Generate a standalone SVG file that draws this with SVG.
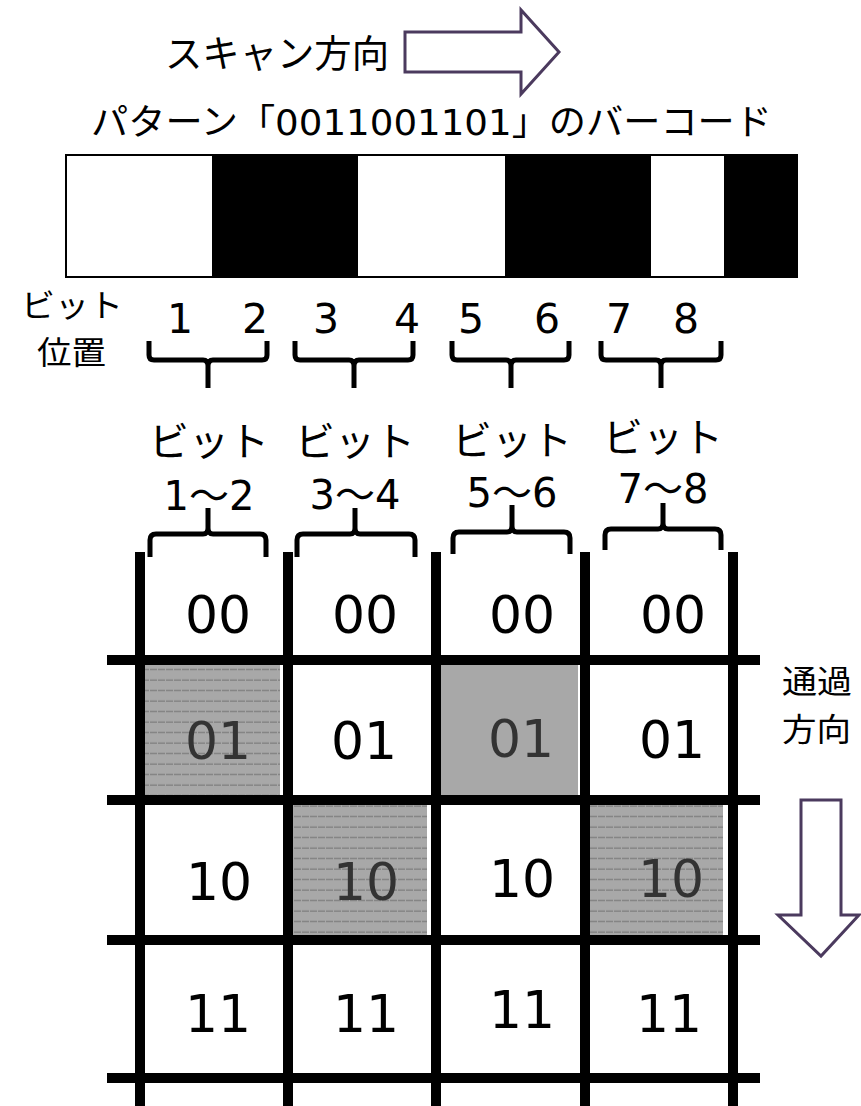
<svg xmlns="http://www.w3.org/2000/svg" width="861" height="1106" viewBox="0 0 861 1106">
<style>
.jp{font-family:"Noto Sans CJK JP","Noto Sans",sans-serif;fill:#000}
.mix{font-family:"DejaVu Sans","Noto Sans CJK JP",sans-serif;fill:#000}
.num{font-family:"DejaVu Sans",sans-serif;font-size:41px;fill:#000;text-anchor:middle}
.cell{font-family:"DejaVu Sans",sans-serif;font-size:52px;text-anchor:middle;fill:#000}
.cellg{fill:#333}
.brace{fill:none;stroke:#000;stroke-width:5;stroke-linejoin:round}
.grid{stroke:#000;stroke-width:10;fill:none}
.arrow{fill:#fff;stroke:#4b3a5e;stroke-width:3;stroke-linejoin:miter}
.gray{fill:#a8a8a8}
</style>
<defs>
<pattern id="hatch" patternUnits="userSpaceOnUse" x="0" y="3" width="8" height="10.5">
<rect width="8" height="10.5" fill="#a8a8a8"/>
<line x1="0" y1="5" x2="8" y2="5" stroke="#6f6f6f" stroke-width="1" stroke-dasharray="5 1"/>
</pattern>
</defs>

<g id="scan-direction">
<text class="jp" x="165" y="67" font-size="38" textLength="224" lengthAdjust="spacingAndGlyphs">スキャン方向</text>
<polygon class="arrow" points="405,32 521,32 521,10 559,52 521,94 521,72 405,72"/>
</g>

<g id="title">
<text class="mix" x="91" y="135" font-size="36" textLength="681" lengthAdjust="spacingAndGlyphs">パターン「0011001101」のバーコード</text>
</g>

<g id="barcode">
<rect x="66" y="155" width="731" height="122" fill="#fff" stroke="#000" stroke-width="2"/>
<rect x="212" y="155" width="146" height="122" fill="#000"/>
<rect x="505" y="155" width="146" height="122" fill="#000"/>
<rect x="724" y="155" width="73" height="122" fill="#000"/>
</g>

<g id="bit-position-label">
<text class="jp" x="21" y="317" font-size="32" textLength="102" lengthAdjust="spacingAndGlyphs">ビット</text>
<text class="jp" x="37" y="364" font-size="32" textLength="69" lengthAdjust="spacingAndGlyphs">位置</text>
</g>

<g id="bit-numbers">
<text class="num" x="180" y="333">1</text>
<text class="num" x="255" y="333">2</text>
<text class="num" x="326" y="333">3</text>
<text class="num" x="407" y="333">4</text>
<text class="num" x="471" y="333">5</text>
<text class="num" x="547" y="333">6</text>
<text class="num" x="619" y="333">7</text>
<text class="num" x="686" y="333">8</text>
</g>

<g id="connectors">
<path class="brace" d="M149,341 V355 Q149,360 154,360 H203 Q208,360 208,366 V388 M208,366 Q208,360 213,360 H262 Q267,360 267,355 V341"/>
<path class="brace" d="M295,341 V355 Q295,360 300,360 H349 Q354,360 354,366 V388 M354,366 Q354,360 359,360 H408 Q413,360 413,355 V341"/>
<path class="brace" d="M452,341 V355 Q452,360 457,360 H506 Q511,360 511,366 V388 M511,366 Q511,360 516,360 H564 Q569,360 569,355 V341"/>
<path class="brace" d="M601,341 V355 Q601,360 606,360 H656 Q661,360 661,366 V388 M661,366 Q661,360 666,360 H716 Q721,360 721,355 V341"/>
<path class="brace" d="M150,557 V540 Q150,534 156,534 H203 Q208,534 208,528 V508 M208,528 Q208,534 213,534 H260 Q266,534 266,540 V557"/>
<path class="brace" d="M297,557 V540 Q297,534 303,534 H350 Q355,534 355,528 V508 M355,528 Q355,534 360,534 H409 Q415,534 415,540 V557"/>
<path class="brace" d="M453,554 V538 Q453,532 459,532 H507 Q512,532 512,526 V505 M512,526 Q512,532 517,532 H564 Q570,532 570,538 V554"/>
<path class="brace" d="M605,550 V535 Q605,529 611,529 H658 Q663,529 663,523 V503 M663,523 Q663,529 668,529 H715 Q721,529 721,535 V550"/>
</g>

<g id="group-labels">
<text class="jp" x="209" y="456" font-size="40" text-anchor="middle">ビット</text>
<text class="jp" x="355" y="456" font-size="40" text-anchor="middle">ビット</text>
<text class="jp" x="512" y="455" font-size="40" text-anchor="middle">ビット</text>
<text class="jp" x="663" y="452" font-size="40" text-anchor="middle">ビット</text>
<text class="mix" x="209" y="510" font-size="40" text-anchor="middle">1〜2</text>
<text class="mix" x="355" y="509" font-size="40" text-anchor="middle">3〜4</text>
<text class="mix" x="512" y="507" font-size="40" text-anchor="middle">5〜6</text>
<text class="mix" x="663" y="503" font-size="40" text-anchor="middle">7〜8</text>
</g>

<g id="cells">
<rect x="145" y="665" width="135" height="130" fill="url(#hatch)"/>
<rect x="441" y="665" width="137" height="130" class="gray"/>
<rect x="293" y="805" width="134" height="130" fill="url(#hatch)"/>
<rect x="590" y="805" width="133" height="130" fill="url(#hatch)"/>
</g>

<g id="grid">
<path class="grid" d="M140,552 V1106 M288,552 V1106 M436,552 V1106 M585,552 V1106 M733,552 V1106"/>
<path class="grid" d="M107,660 H760 M107,800 H760 M107,940 H760 M107,1078 H760"/>
</g>

<g id="cell-values">
<text class="cell" x="218" y="633">00</text>
<text class="cell" x="365" y="633">00</text>
<text class="cell" x="522" y="633">00</text>
<text class="cell" x="673" y="633">00</text>
<text class="cell cellg" x="218" y="759">01</text>
<text class="cell" x="364" y="759">01</text>
<text class="cell cellg" x="521" y="757">01</text>
<text class="cell" x="672" y="758">01</text>
<text class="cell" x="219" y="900">10</text>
<text class="cell cellg" x="366" y="900">10</text>
<text class="cell" x="522" y="897">10</text>
<text class="cell cellg" x="671" y="897">10</text>
<text class="cell" x="218" y="1032">11</text>
<text class="cell" x="366" y="1032">11</text>
<text class="cell" x="522" y="1028">11</text>
<text class="cell" x="669" y="1032">11</text>
</g>

<g id="pass-direction">
<text class="jp" x="782" y="693" font-size="32" textLength="70" lengthAdjust="spacingAndGlyphs">通過</text>
<text class="jp" x="782" y="741" font-size="32" textLength="69" lengthAdjust="spacingAndGlyphs">方向</text>
<polygon class="arrow" points="801,800 841,800 841,915 859,915 821,956 778,915 801,915"/>
</g>
</svg>
